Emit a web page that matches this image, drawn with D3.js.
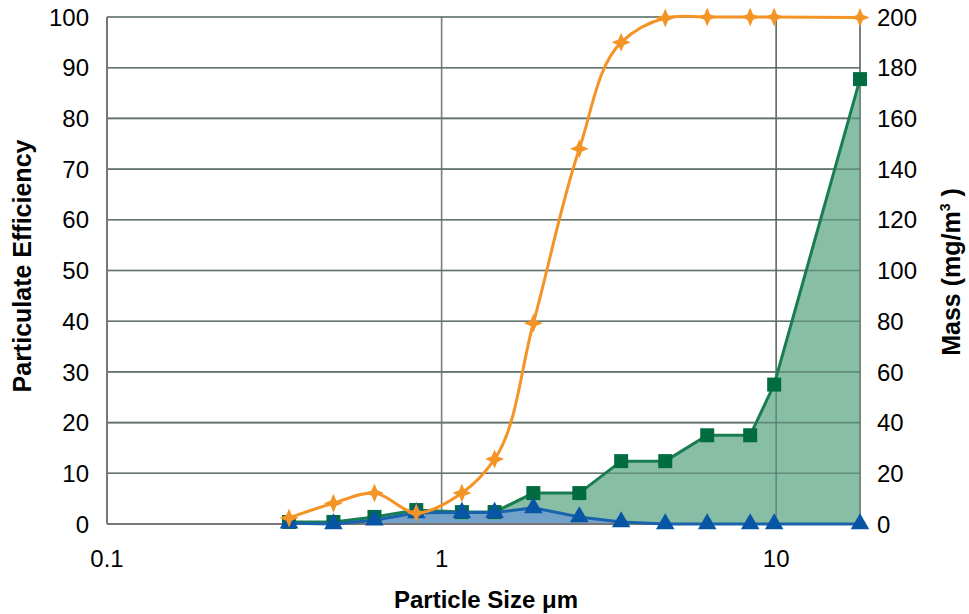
<!DOCTYPE html>
<html>
<head>
<meta charset="utf-8">
<script src="https://cdn.jsdelivr.net/npm/d3@7"></script>
<style>
  body { margin: 0; background: #fff; }
  svg { display: block; font-family: "Liberation Sans", Arial, sans-serif; }
</style>
</head>
<body>
<div id="chart"></div>
<script>
// particle size channels (um) and the three measured series
const sizes = [0.35, 0.475, 0.63, 0.84, 1.15, 1.44, 1.88, 2.58, 3.44, 4.66, 6.22, 8.36, 9.86, 17.8];
const efficiency = [1.2, 4.1, 6.1, 2.2, 6.1, 12.8, 39.6, 74, 95, 99.8, 100, 100, 100, 99.9];
const massUpstream = [0.8, 0.8, 2.8, 5.5, 4.7, 4.7, 12.2, 12.2, 24.8, 24.8, 35, 35, 55, 175.5];
const massDownstream = [0.3, 0, 1.5, 4.4, 4.5, 4.5, 6.4, 2.8, 0.8, 0, 0, 0, 0, 0];

const xTicks = [0.1, 1, 10];
const leftTicks = d3.range(0, 101, 10);
const rightTicks = d3.range(0, 201, 20);

const width = 969, height = 614;
const margin = {top: 17, right: 109, bottom: 90, left: 107};

const svg = d3.select('#chart').append('svg')
  .attr('width', width)
  .attr('height', height)
  .attr('viewBox', [0, 0, width, height]);

const x = d3.scaleLog()
  .domain([0.1, 17.8])
  .range([margin.left, width - margin.right]);

const yLeft = d3.scaleLinear()
  .domain([0, 100])
  .range([height - margin.bottom, margin.top]);

const yRight = d3.scaleLinear()
  .domain([0, 200])
  .range([height - margin.bottom, margin.top]);

const gridColor = '#7c7c7c';

// horizontal grid
svg.append('g').selectAll('line')
  .data(leftTicks)
  .enter().append('line')
  .attr('x1', margin.left)
  .attr('x2', width - margin.right)
  .attr('y1', d => yLeft(d))
  .attr('y2', d => yLeft(d))
  .attr('stroke', gridColor)
  .attr('stroke-width', 1.6);

// vertical grid at the decades plus plot edges
svg.append('g').selectAll('line')
  .data(xTicks.concat([17.8]))
  .enter().append('line')
  .attr('x1', d => x(d))
  .attr('x2', d => x(d))
  .attr('y1', margin.top)
  .attr('y2', height - margin.bottom)
  .attr('stroke', gridColor)
  .attr('stroke-width', 1.6);

const pts = (ys, scale) => sizes.map((s, i) => [x(s), scale(ys[i])]);

// filled areas
const area = d3.area()
  .x(d => d[0])
  .y0(yRight(0))
  .y1(d => d[1]);

svg.append('path')
  .attr('d', area(pts(massUpstream, yRight)))
  .attr('fill', 'rgb(122,183,155)')
  .attr('fill-opacity', 0.9);

svg.append('path')
  .attr('d', area(pts(massDownstream, yRight)))
  .attr('fill', 'rgb(112,158,205)')
  .attr('fill-opacity', 0.9);

// gridlines stay visible through the fills
svg.append('g').selectAll('line')
  .data(leftTicks.slice(1))
  .enter().append('line')
  .attr('x1', margin.left)
  .attr('x2', width - margin.right)
  .attr('y1', d => yLeft(d))
  .attr('y2', d => yLeft(d))
  .attr('stroke', '#4a6a5b')
  .attr('stroke-opacity', 0.5)
  .attr('stroke-width', 1.6);

svg.append('g').selectAll('line')
  .data([10, 17.8])
  .enter().append('line')
  .attr('x1', d => x(d))
  .attr('x2', d => x(d))
  .attr('y1', margin.top)
  .attr('y2', height - margin.bottom)
  .attr('stroke', '#4a6a5b')
  .attr('stroke-opacity', 0.5)
  .attr('stroke-width', 1.6);

// axis lines
svg.append('line')
  .attr('x1', margin.left).attr('x2', margin.left)
  .attr('y1', margin.top).attr('y2', height - margin.bottom)
  .attr('stroke', '#777').attr('stroke-width', 2);
svg.append('line')
  .attr('x1', margin.left).attr('x2', width - margin.right)
  .attr('y1', height - margin.bottom).attr('y2', height - margin.bottom)
  .attr('stroke', '#777').attr('stroke-width', 2);

const line = d3.line();

// upstream mass (green squares)
svg.append('path')
  .attr('d', line(pts(massUpstream, yRight)))
  .attr('fill', 'none')
  .attr('stroke', 'rgb(25,125,82)')
  .attr('stroke-width', 3);

svg.append('g').selectAll('rect')
  .data(pts(massUpstream, yRight))
  .enter().append('rect')
  .attr('x', d => d[0] - 7)
  .attr('y', d => d[1] - 7)
  .attr('width', 14)
  .attr('height', 14)
  .attr('fill', 'rgb(0,108,64)');

// downstream mass (blue triangles)
svg.append('path')
  .attr('d', line(pts(massDownstream, yRight)))
  .attr('fill', 'none')
  .attr('stroke', 'rgb(25,98,172)')
  .attr('stroke-width', 3);

svg.append('g').selectAll('path')
  .data(pts(massDownstream, yRight))
  .enter().append('path')
  .attr('transform', d => `translate(${d[0]},${d[1]})`)
  .attr('d', d3.symbol(d3.symbolTriangle, 150))
  .attr('fill', 'rgb(8,84,165)');

// efficiency (orange stars, smoothed)
const orange = 'rgb(244,148,38)';
svg.append('path')
  .attr('d', d3.line().curve(d3.curveCatmullRom.alpha(0.8))(pts(efficiency, yLeft)))
  .attr('fill', 'none')
  .attr('stroke', orange)
  .attr('stroke-width', 3);

const r = 9.5, k = 2.8;
const star = `M0,${-r}L${k},${-k}L${r},0L${k},${k}L0,${r}L${-k},${k}L${-r},0L${-k},${-k}Z`;
svg.append('g').selectAll('path')
  .data(pts(efficiency, yLeft))
  .enter().append('path')
  .attr('transform', d => `translate(${d[0]},${d[1]})`)
  .attr('d', star)
  .attr('fill', orange);

// tick labels
const tickFont = 24;
svg.append('g').selectAll('text')
  .data(leftTicks)
  .enter().append('text')
  .attr('x', margin.left - 18)
  .attr('y', d => yLeft(d))
  .attr('dy', '0.36em')
  .attr('text-anchor', 'end')
  .attr('font-size', tickFont)
  .attr('fill', '#000')
  .text(d => d);

svg.append('g').selectAll('text')
  .data(rightTicks)
  .enter().append('text')
  .attr('x', width - margin.right + 17)
  .attr('y', d => yRight(d))
  .attr('dy', '0.36em')
  .attr('text-anchor', 'start')
  .attr('font-size', tickFont)
  .attr('fill', '#000')
  .text(d => d);

svg.append('g').selectAll('text')
  .data(xTicks)
  .enter().append('text')
  .attr('x', d => x(d))
  .attr('y', height - margin.bottom + 43)
  .attr('text-anchor', 'middle')
  .attr('font-size', tickFont)
  .attr('fill', '#000')
  .text(d => d);

// axis titles
svg.append('text')
  .attr('transform', `translate(31,266) rotate(-90)`)
  .attr('text-anchor', 'middle')
  .attr('font-size', 25)
  .attr('font-weight', 'bold')
  .attr('fill', '#000')
  .text('Particulate Efficiency');

const rt = svg.append('text')
  .attr('transform', `translate(960,272) rotate(-90)`)
  .attr('text-anchor', 'middle')
  .attr('font-size', 25)
  .attr('font-weight', 'bold')
  .attr('fill', '#000');
rt.append('tspan').text('Mass (mg/m');
rt.append('tspan').attr('font-size', 14).attr('dy', -10).text('3');
rt.append('tspan').attr('dy', 10).text(' )');

svg.append('text')
  .attr('x', 486)
  .attr('y', 608)
  .attr('text-anchor', 'middle')
  .attr('font-size', 24)
  .attr('font-weight', 'bold')
  .attr('fill', '#000')
  .text('Particle Size μm');
</script>
</body>
</html>
